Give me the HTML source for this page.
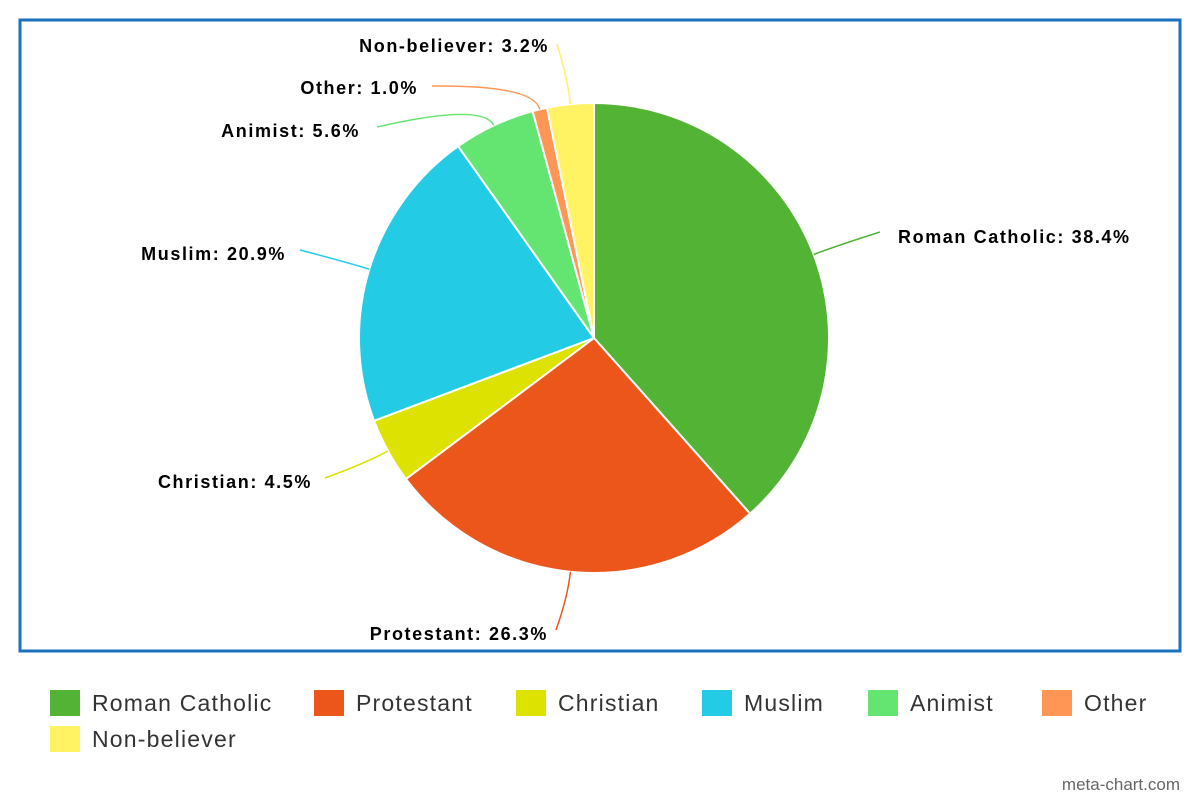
<!DOCTYPE html>
<html><head><meta charset="utf-8"><style>
body{margin:0;background:#fff;}
svg{display:block;font-family:"Liberation Sans",Arial,sans-serif;}
</style></head><body>
<svg id="chart" width="1200" height="800">
<rect x="20" y="20" width="1160" height="631" fill="none" stroke="#1a72bf" stroke-width="3"/>
<g id="slices"></g><g id="labels"></g><g id="legend"></g>
<text x="1180" y="790" text-anchor="end" font-size="17" fill="#666">meta-chart.com</text>
</svg>
<script>
const categories=["Roman Catholic","Protestant","Christian","Muslim","Animist","Other","Non-believer"];
const values=[38.4,26.3,4.5,20.9,5.6,1.0,3.2];
const colors=["#52b334","#ec561b","#dde200","#24cbe5","#64e572","#ff9655","#fff263"];
// label layout: [line end x, line end y, text x, baseline, anchor]
const labelLayout=[[880,232,898,243,"start"],[556,630,548,640,"end"],[325,478,312,488,"end"],[300,250,286,260,"end"],[377,127,360,137,"end"],[432,86,418,94,"end"],[557,44,549,52,"end"]];
const NS="http://www.w3.org/2000/svg";
const cx=594,cy=338,r=235;
const total=values.reduce((a,b)=>a+b,0);
function pt(frac,rad){const a=frac*2*Math.PI;return [cx+rad*Math.sin(a),cy-rad*Math.cos(a)];}
const gs=document.getElementById('slices'),gl=document.getElementById('labels'),gleg=document.getElementById('legend');
let acc=0;
values.forEach((v,i)=>{
  const f0=acc/total,f1=(acc+v)/total,fm=(f0+f1)/2;acc+=v;
  const p0=pt(f0,r),p1=pt(f1,r),large=(f1-f0)>0.5?1:0;
  const p=document.createElementNS(NS,'path');
  p.setAttribute('d',`M${cx},${cy}L${p0[0]},${p0[1]}A${r},${r} 0 ${large} 1 ${p1[0]},${p1[1]}Z`);
  p.setAttribute('fill',colors[i]);p.setAttribute('stroke','#fff');p.setAttribute('stroke-width','2');
  
  
  gs.appendChild(p);
  const L=labelLayout[i],e=pt(fm,r),el=pt(fm,r+25);
  const ln=document.createElementNS(NS,'path');
  ln.setAttribute('d',`M${e[0]},${e[1]}Q${el[0]},${el[1]} ${L[0]},${L[1]}`);
  ln.setAttribute('fill','none');ln.setAttribute('stroke',colors[i]);ln.setAttribute('stroke-width','1.5');
  
  
  gl.appendChild(ln);
  const t=document.createElementNS(NS,'text');
  t.setAttribute('x',L[2]);t.setAttribute('y',L[3]);t.setAttribute('text-anchor',L[4]);
  t.setAttribute('font-size','18');t.setAttribute('font-weight','bold');t.setAttribute('fill','#000');
  t.setAttribute('letter-spacing','1.6');
  t.textContent=categories[i]+': '+v.toFixed(1)+'%';
  
  
  gl.appendChild(t);
});
const legX=[50,314,516,702,868,1042,50],legY=[690,690,690,690,690,690,726];
categories.forEach((c,i)=>{
  const g=document.createElementNS(NS,'g');
  
  
  const rc=document.createElementNS(NS,'rect');
  rc.setAttribute('x',legX[i]);rc.setAttribute('y',legY[i]);rc.setAttribute('width',30);rc.setAttribute('height',26);rc.setAttribute('fill',colors[i]);
  
  
  const t=document.createElementNS(NS,'text');
  t.setAttribute('x',legX[i]+42);t.setAttribute('y',legY[i]+21);t.setAttribute('font-size','23');t.setAttribute('fill','#333');
  t.setAttribute('letter-spacing','1.2');
  t.textContent=c;
  
  
  g.appendChild(rc);g.appendChild(t);gleg.appendChild(g);
});
</script>
</body></html>
